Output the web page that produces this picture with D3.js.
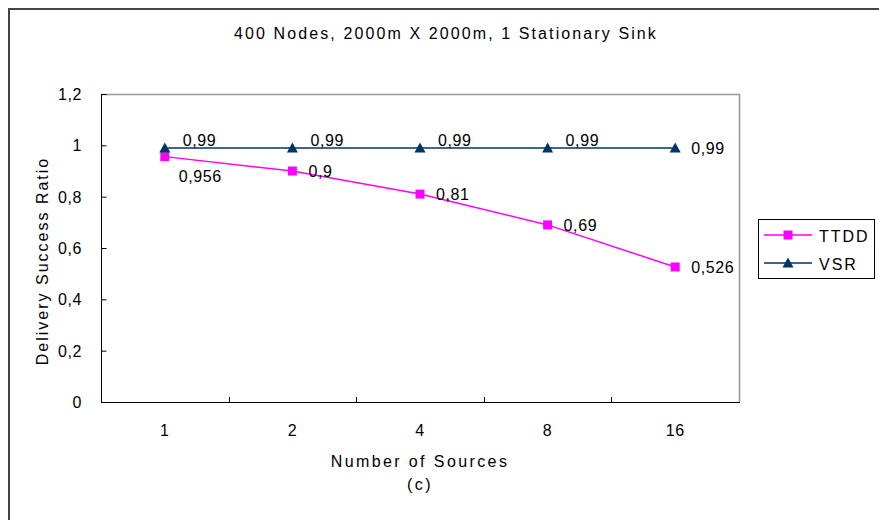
<!DOCTYPE html>
<html>
<head>
<meta charset="utf-8">
<script src="https://cdn.jsdelivr.net/npm/d3@7"></script>
<style>
  html, body { margin: 0; padding: 0; background: #fff; }
  svg { display: block; }
  text { font-family: "Liberation Sans", Arial, sans-serif; fill: #000; }
</style>
</head>
<body>
<svg id="chart" width="879" height="520"></svg>
<script>
// Number of data sources (x categories)
const sources = ["1", "2", "4", "8", "16"];
// Delivery success ratio per scheme
const ttdd = [0.956, 0.9, 0.81, 0.69, 0.526];
const vsr = [0.99, 0.99, 0.99, 0.99, 0.99];
// Value-axis ticks
const yTicks = [0, 0.2, 0.4, 0.6, 0.8, 1, 1.2];

const series = [
  { name: "TTDD", values: ttdd, color: "#ff00ff", marker: "square" },
  { name: "VSR", values: vsr, color: "#003366", marker: "triangle" }
];

const svg = d3.select("#chart");
const plot = { left: 101, right: 739, top: 94, bottom: 402 };

// Comma decimal separator, as in the labels
const fmt = v => String(v).replace(".", ",");

// Outer chart frame
svg.append("rect")
  .attr("x", 9).attr("y", 9)
  .attr("width", 900).attr("height", 600)
  .attr("fill", "none").attr("stroke", "#444").attr("stroke-width", 2);

// Title
svg.append("text")
  .attr("x", 446).attr("y", 39)
  .attr("text-anchor", "middle")
  .style("font-size", "16px").style("letter-spacing", "2.1px")
  .text("400 Nodes, 2000m X 2000m, 1 Stationary Sink");

const x = d3.scaleBand().domain(sources).range([plot.left, plot.right]);
const y = d3.scaleLinear().domain([0, 1.2]).range([plot.bottom, plot.top]);
const cx = d => x(d) + x.bandwidth() / 2;

// Plot-area border (top and right, grey)
svg.append("path")
  .attr("d", `M${plot.left},${plot.top + 0.5}H${plot.right + 0.5}V${plot.bottom}`)
  .attr("fill", "none").attr("stroke", "#999").attr("stroke-width", 1.6);

// Y axis, ticks pointing into the plot
const yAxis = svg.append("g")
  .attr("transform", `translate(${plot.left + 0.5},0)`)
  .call(d3.axisRight(y).tickValues(yTicks).tickSize(5).tickFormat(() => ""));
yAxis.select(".domain").attr("stroke", "#000").attr("d", `M0,${plot.top}V${plot.bottom}`);
yAxis.selectAll(".tick line").attr("stroke", "#000");

svg.append("g").selectAll("text").data(yTicks).join("text")
  .attr("x", 82).attr("y", d => y(d) + 6)
  .attr("text-anchor", "end")
  .style("font-size", "16px").style("letter-spacing", "0.6px")
  .text(d => fmt(d));

// X axis: ticks at category boundaries, pointing up into the plot
const bounds = sources.slice(1).map(s => x(s));
const xAxis = svg.append("g");
xAxis.append("line")
  .attr("x1", plot.left).attr("x2", plot.right + 1)
  .attr("y1", plot.bottom + 0.5).attr("y2", plot.bottom + 0.5)
  .attr("stroke", "#000");
xAxis.selectAll("line.tk").data(bounds).join("line").attr("class", "tk")
  .attr("x1", d => Math.round(d) + 0.5).attr("x2", d => Math.round(d) + 0.5)
  .attr("y1", plot.bottom).attr("y2", plot.bottom - 5)
  .attr("stroke", "#000");
xAxis.selectAll("text").data(sources).join("text")
  .attr("x", d => cx(d)).attr("y", 436)
  .attr("text-anchor", "middle")
  .style("font-size", "16px").style("letter-spacing", "0.6px")
  .text(d => d);

// Axis titles
svg.append("text")
  .attr("x", 420).attr("y", 467)
  .attr("text-anchor", "middle")
  .style("font-size", "16px").style("letter-spacing", "2.4px")
  .text("Number of Sources");
svg.append("text")
  .attr("x", 420).attr("y", 490)
  .attr("text-anchor", "middle")
  .style("font-size", "16px").style("letter-spacing", "2.4px")
  .text("(c)");
svg.append("text")
  .attr("transform", "translate(48,261) rotate(-90)")
  .attr("text-anchor", "middle")
  .style("font-size", "16px").style("letter-spacing", "2px")
  .text("Delivery Success Ratio");

// Marker shapes
const sq = d3.symbol().type(d3.symbolSquare).size(81)();
const tri = "M0,-5.5L5.5,4.5L-5.5,4.5Z";
const markerPath = m => m === "square" ? sq : tri;

const line = d3.line().x((d, i) => cx(sources[i])).y(d => y(d));

series.forEach(s => {
  const g = svg.append("g");
  g.append("path")
    .attr("d", line(s.values))
    .attr("fill", "none").attr("stroke", s.color).attr("stroke-width", 1.5);
  g.selectAll("path.mk").data(s.values).join("path").attr("class", "mk")
    .attr("d", markerPath(s.marker))
    .attr("transform", (d, i) => `translate(${cx(sources[i])},${y(d)})`)
    .attr("fill", s.color);
});

// Data labels: VSR sits above its line except at the last point;
// the first TTDD label drops below to clear the VSR line.
const labelPos = (name, i, n) => {
  if (name === "VSR" && i < n - 1) return { dx: 18, dy: -2 };
  if (name === "TTDD" && i === 0) return { dx: 14, dy: 25 };
  return { dx: 16, dy: 6 };
};
series.forEach(s => {
  svg.append("g").selectAll("text").data(s.values).join("text")
    .attr("x", (d, i) => cx(sources[i]) + labelPos(s.name, i, s.values.length).dx)
    .attr("y", (d, i) => y(d) + labelPos(s.name, i, s.values.length).dy)
    .style("font-size", "16px").style("letter-spacing", "0.6px")
    .text(d => fmt(d));
});

// Legend
const lg = svg.append("g");
lg.append("rect")
  .attr("x", 758.5).attr("y", 219.5).attr("width", 116).attr("height", 59)
  .attr("fill", "#fff").attr("stroke", "#000");
series.forEach((s, i) => {
  const ly = 235 + i * 28;
  lg.append("line")
    .attr("x1", 764).attr("x2", 812).attr("y1", ly).attr("y2", ly)
    .attr("stroke", s.color).attr("stroke-width", 1.5);
  lg.append("path")
    .attr("d", markerPath(s.marker))
    .attr("transform", `translate(788,${ly})`)
    .attr("fill", s.color);
  lg.append("text")
    .attr("x", 819).attr("y", ly + 7)
    .style("font-size", "16px").style("letter-spacing", "2px")
    .text(s.name);
});
</script>
</body>
</html>
